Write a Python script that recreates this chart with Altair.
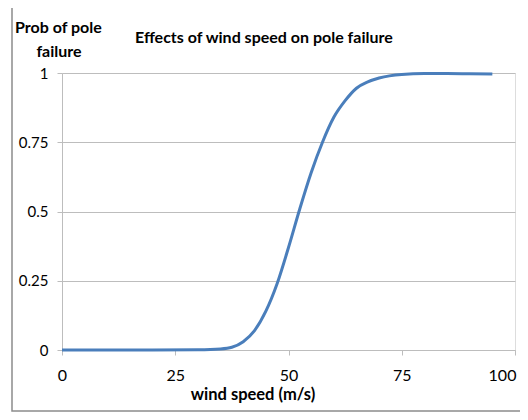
import altair as alt
import pandas as pd

# Data
wind_speed = [0, 10, 20, 30, 35, 37.5, 40, 42.5, 45, 47.5, 50, 52.5, 55, 57.5,
              60, 62.5, 65, 67.5, 70, 75, 80, 85, 90, 95]
prob_fail = [0, 0, 0, 0.001, 0.004, 0.01, 0.03, 0.07, 0.14, 0.24, 0.37, 0.51,
             0.64, 0.75, 0.84, 0.90, 0.945, 0.968, 0.982, 0.995, 0.998, 0.998,
             0.997, 0.996]
x_ticks = [0, 25, 50, 75, 100]
y_ticks = [0, 0.25, 0.5, 0.75, 1]

chart_title = "Effects of wind speed on pole failure"
y_title = ["Prob of pole", "failure"]
x_title = "wind speed (m/s)"

FONT = "Lato, Liberation Sans, sans-serif"
W, H = 453, 277

df = pd.DataFrame({"speed": wind_speed, "prob": prob_fail})

line = alt.Chart(df).mark_line(
    color="#4A7EBB", strokeWidth=3, interpolate="monotone"
).encode(
    x=alt.X("speed:Q", scale=alt.Scale(domain=[0, 100], nice=False),
            axis=alt.Axis(values=x_ticks, title=None, grid=False,
                          domainColor="#BDBDBD", tickColor="#BDBDBD",
                          tickSize=5, labelPadding=12, labelFontSize=16,
                          labelFont=FONT, labelColor="#000000",
                          labelOffset=alt.condition("datum.value == 100",
                                                    alt.value(-13), alt.value(0)),
                          labelFlush=False, labelOverlap=False)),
    y=alt.Y("prob:Q", scale=alt.Scale(domain=[0, 1], nice=False),
            axis=alt.Axis(values=y_ticks, title=None, grid=True,
                          gridColor="#BDBDBD", domainColor="#BDBDBD",
                          tickColor="#BDBDBD", tickSize=5, labelPadding=9,
                          labelFontSize=15, labelFont=FONT,
                          labelColor="#000000",
                          labelExpr="'' + datum.value")),
)

border = alt.Chart(pd.DataFrame({"a": [0]})).mark_rect(
    fill=None, stroke="#8C8C8C", strokeWidth=1.5
).encode(
    x=alt.value(-50), x2=alt.value(480), y=alt.value(-67), y2=alt.value(H + 61)
)

def label(text, x, y, align="left", size=16, weight="bold"):
    return alt.Chart(pd.DataFrame({"t": [text]})).mark_text(
        align=align, baseline="alphabetic", font=FONT, fontSize=size,
        fontWeight=weight, color="#000000"
    ).encode(text="t:N", x=alt.value(x), y=alt.value(y))

texts = (
    label(chart_title, 73, -30)
    + label(y_title[0], -47, -40)
    + label(y_title[1], -3, -16, align="center")
    + label(x_title, 191, H + 50, align="center", size=16.5)
)

chart = alt.layer(border, line, texts).properties(
    width=W, height=H,
    autosize=alt.AutoSizeParams(type="none"),
    padding={"left": 54, "top": 65, "right": 5, "bottom": 62},
).configure_view(stroke=None).configure(background="#FFFFFF")

chart.save("out.html", embed_options={"renderer": "svg", "actions": False})
